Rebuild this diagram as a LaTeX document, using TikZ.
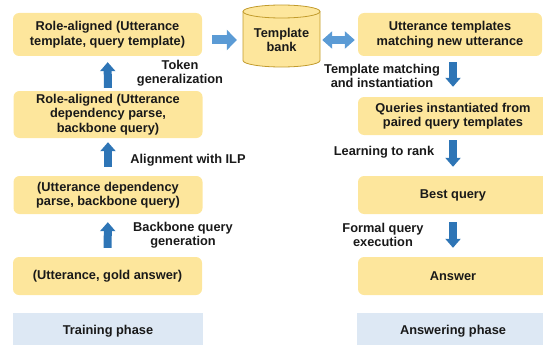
\documentclass[tikz,border=0pt]{standalone}
\usepackage{fontspec}
\setmainfont{Liberation Sans}
\usetikzlibrary{arrows.meta,positioning}
\definecolor{amarillo}{HTML}{FDE69C}
\definecolor{celeste}{HTML}{DDE8F4}
\definecolor{azul}{HTML}{2E75B6}
\definecolor{azulclaro}{HTML}{5B9BD5}
\definecolor{dorado}{HTML}{C29B2C}
\tikzstyle{etapa} = [fill=amarillo, rounded corners=6pt, minimum width=189pt, align=center, inner sep=2pt]
\tikzstyle{fase} = [fill=celeste, minimum width=190pt, minimum height=36pt]
\tikzstyle{rotulo} = [align=center]
\tikzstyle{paso} = [draw=azul, line width=8pt, -{Triangle[length=9pt,width=15pt]}]
\tikzstyle{enlace} = [draw=azulclaro, line width=9pt]

\begin{document}
\begin{tikzpicture}[x=1pt, y=-1pt, font=\fontsize{12.8}{14.5}\selectfont\bfseries, text=black!90]
\useasboundingbox (0,0) rectangle (543,345);
% training side
\node[etapa, minimum height=43pt] (plantilla) at (107.5,34.5) {Role-aligned (Utterance\\template, query template)};
\node[etapa, minimum height=47pt] (alineado) at (108,114.5) {Role-aligned (Utterance\\dependency parse,\\backbone query)};
\node[etapa, minimum height=38pt] (arbol) at (108,195) {(Utterance dependency\\parse, backbone query)};
\node[etapa, minimum height=38pt] (par) at (107.5,276) {(Utterance, gold answer)};
\node[fase, anchor=north] (entrena) at (108,313) {\raisebox{-4pt}{Training phase}};
% answering side
\node[etapa, minimum width=184pt, minimum height=43pt] (coinciden) at (450,34.5) {Utterance templates\\matching new utterance};
\node[etapa, minimum width=190pt, minimum height=38pt] (consultas) at (453,116) {Queries instantiated from\\paired query templates};
\node[etapa, minimum width=190pt, minimum height=38pt] (mejor) at (453,195) {Best query};
\node[etapa, minimum width=190pt, minimum height=38pt] (respuesta) at (453,276) {Answer};
\node[fase, minimum width=192pt, anchor=north] (responde) at (453,313) {\raisebox{-4pt}{Answering phase}};
% template bank
\filldraw[fill=amarillo, draw=dorado, line width=0.8pt] (243,11.5) -- (243,60.5) arc[start angle=180, end angle=360, x radius=38.5pt, y radius=6.5pt] -- (320,11.5);
\filldraw[fill=amarillo, draw=dorado, line width=0.8pt] (281.5,11.5) ellipse[x radius=38.5pt, y radius=6.5pt];
\node[rotulo, minimum width=77pt, minimum height=50pt] (banco) at (281.5,40) {Template\\bank};
% labels
\node[rotulo] (token) at (180,73) {Token\\generalization};
\node[rotulo] (ilp) at (188,160) {Alignment with ILP};
\node[rotulo] (backbone) at (183,235) {Backbone query\\generation};
\node[rotulo] (matching) at (382,76) {Template matching\\and instantiation};
\node[rotulo] (rank) at (384,152) {Learning to rank};
\node[rotulo] (formal) at (383,235) {Formal query\\execution};
% arrows
\draw[paso, shorten <=9pt, shorten >=8pt] (par) -- (arbol);
\draw[paso, shorten <=9pt, shorten >=4pt] (arbol) -- (alineado);
\draw[paso, shorten <=3pt, shorten >=6pt] (alineado) -- (plantilla);
\draw[paso, shorten <=6pt, shorten >=10pt] (coinciden.south -| consultas) -- (consultas);
\draw[paso, shorten <=5pt, shorten >=9pt] (consultas) -- (mejor);
\draw[paso, shorten <=8pt, shorten >=9pt] (mejor) -- (respuesta);
\draw[enlace, -{Triangle[length=10pt,width=20pt]}, shorten <=10pt, shorten >=6pt] (plantilla.east |- banco.west) -- (banco.west);
\draw[enlace, line width=8pt, {Triangle[length=10pt,width=17pt]}-{Triangle[length=10pt,width=17pt]}, shorten <=2pt, shorten >=3pt] (banco.east) -- (banco.east -| coinciden.west);
\end{tikzpicture}
\end{document}
